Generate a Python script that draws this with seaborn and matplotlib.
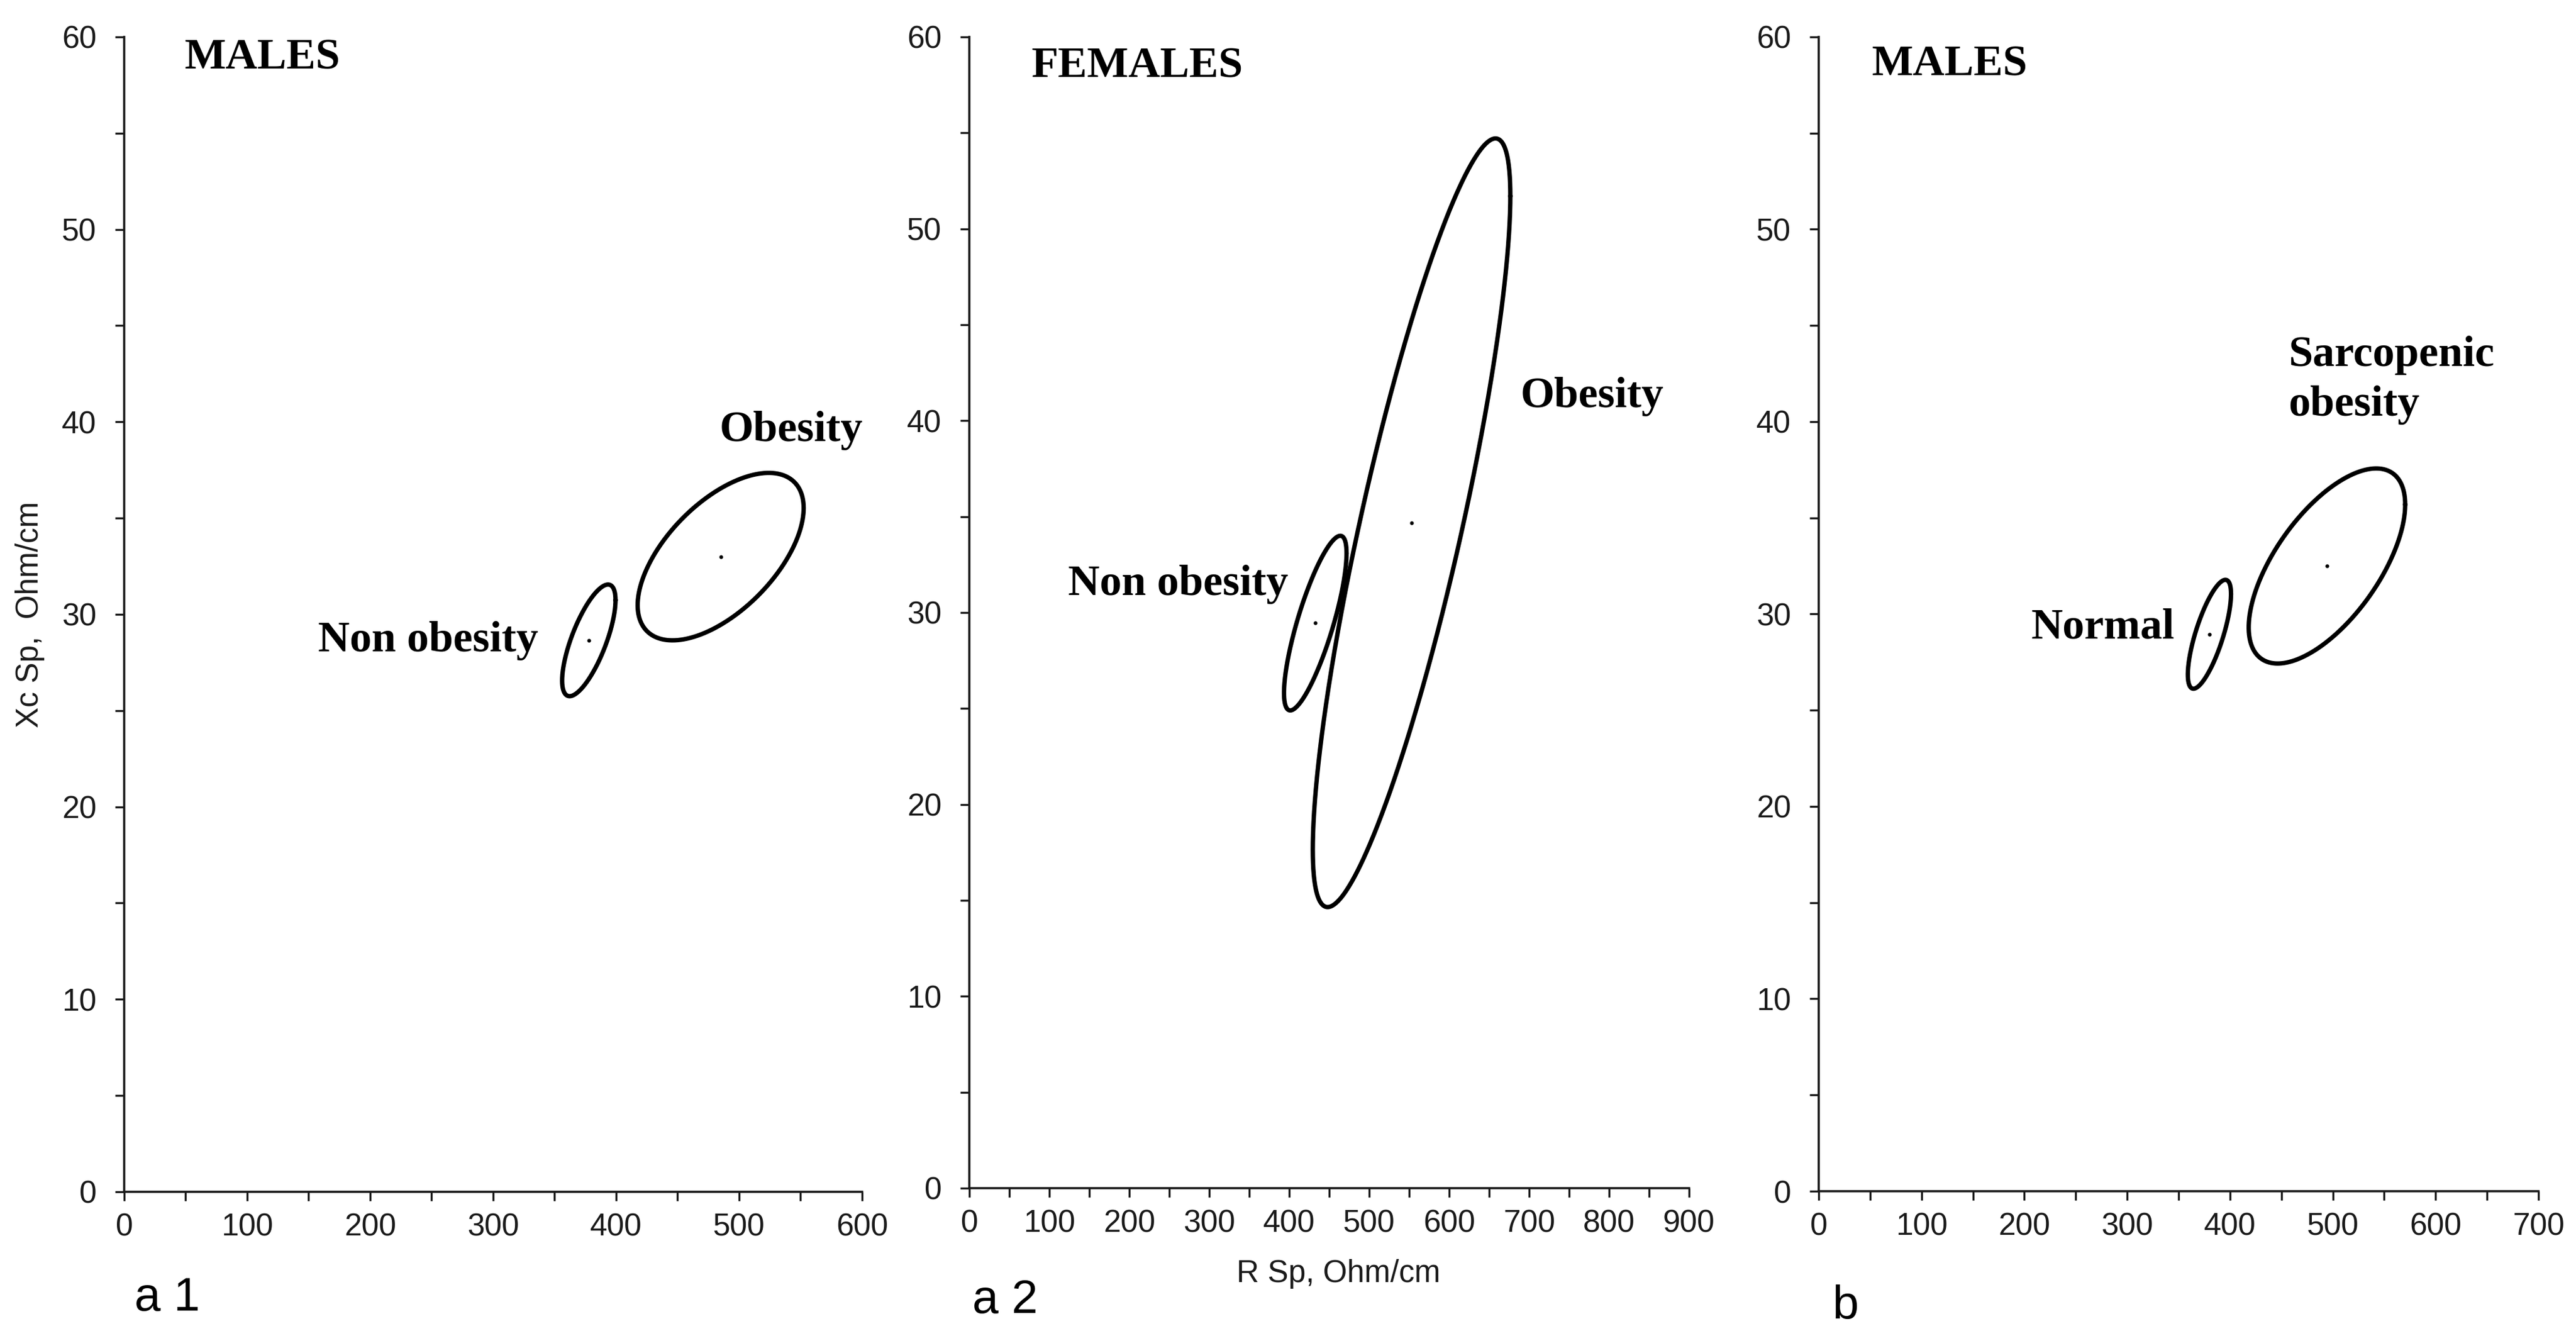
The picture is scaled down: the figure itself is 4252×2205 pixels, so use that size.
import numpy as np
import pandas as pd
import matplotlib
matplotlib.use("Agg")
import matplotlib.pyplot as plt
from matplotlib import font_manager
from matplotlib.ticker import MultipleLocator
import seaborn as sns

# ---------------- data ----------------
panels = ["a 1", "a 2", "b"]
panel_titles = ["MALES", "FEMALES", "MALES"]
x_max = [600, 900, 700]

# one entry per ellipse: panel index, group label, mean R, mean Xc,
# half-extent along R, half-extent along Xc, correlation
ell_panel = [0, 0, 1, 1, 2, 2]
ell_group = ["Non obesity", "Obesity", "Non obesity", "Obesity", "Normal", "Sarcopenic\nobesity"]
ell_mean_r = [377.8, 485.0, 432.6, 553.0, 380.0, 494.3]
ell_mean_xc = [28.65, 33.0, 29.45, 34.68, 28.95, 32.5]
ell_half_r = [21.7, 67.5, 39.1, 123.5, 21.0, 76.1]
ell_half_xc = [2.9, 4.35, 4.55, 20.03, 2.83, 5.07]
ell_corr = [0.72, 0.58, 0.80, 0.85, 0.74, 0.63]

# label anchor (left, baseline of last line) in data units
lab_x = [157.6, 484.0, 123.5, 689.0, 206.8, 457.0]
lab_y = [28.08, 39.0, 30.9, 40.7, 28.75, 40.3]
title_x = [49.3, 78.0, 52.0]
title_y = [58.36, 57.9, 58.0]

# ---------------- style ----------------
sns.set_theme(style="ticks")
names = {f.name for f in font_manager.fontManager.ttflist}
narrow = "Liberation Sans Narrow" if "Liberation Sans Narrow" in names else "Liberation Sans"
plt.rcParams["font.family"] = [narrow, "DejaVu Sans"]
serif = ["Liberation Serif", "DejaVu Serif"]
ink = "#1a1a1a"

dpi = 200
fig = plt.figure(figsize=(4252 / dpi, 2205 / dpi), dpi=dpi, facecolor="white")

axes_rect = [
    [0.04821, 0.10794, 0.28645, 0.86440],
    [0.37629, 0.11066, 0.27940, 0.86168],
    [0.70602, 0.10839, 0.27940, 0.86395],
]

# build ellipse table
t = np.linspace(0, 2 * np.pi, 721)
rows = []
for i in range(len(ell_group)):
    r = ell_corr[i]
    ex = ell_mean_r[i] + ell_half_r[i] * np.cos(t)
    ey = ell_mean_xc[i] + ell_half_xc[i] * (r * np.cos(t) + np.sqrt(1 - r * r) * np.sin(t))
    rows.append(pd.DataFrame({"panel": ell_panel[i], "group": ell_group[i],
                              "R": ex, "Xc": ey, "order": np.arange(len(t))}))
ell_df = pd.concat(rows, ignore_index=True)
centers = pd.DataFrame({"panel": ell_panel, "group": ell_group,
                        "R": ell_mean_r, "Xc": ell_mean_xc})

for p in range(3):
    ax = fig.add_axes(axes_rect[p])
    ax.set_facecolor("white")
    sub = ell_df[ell_df["panel"] == p]
    sns.lineplot(data=sub, x="R", y="Xc", units="group", estimator=None, sort=False,
                 color="black", linewidth=2.6, ax=ax, legend=False)
    csub = centers[centers["panel"] == p]
    sns.scatterplot(data=csub, x="R", y="Xc", color="black", s=5, linewidth=0,
                    ax=ax, legend=False)

    ax.set_xlim(0, x_max[p])
    ax.set_ylim(0, 60)
    ax.xaxis.set_major_locator(MultipleLocator(100))
    ax.xaxis.set_minor_locator(MultipleLocator(50))
    ax.yaxis.set_major_locator(MultipleLocator(10))
    ax.yaxis.set_minor_locator(MultipleLocator(5))
    for s in ["top", "right"]:
        ax.spines[s].set_visible(False)
    for s in ["left", "bottom"]:
        ax.spines[s].set_linewidth(1.3)
        ax.spines[s].set_color(ink)
    ax.tick_params(axis="both", which="both", direction="out", length=5.5,
                   width=1.2, color=ink, labelcolor=ink, labelsize=18.5)
    ax.tick_params(axis="x", which="both", pad=7)
    ax.tick_params(axis="y", which="both", pad=11)
    ax.set_xlabel("")
    ax.set_ylabel("")

    # title inside panel
    ax.text(title_x[p], title_y[p], panel_titles[p], family=serif, fontweight="bold",
            fontsize=26, color="black", ha="left", va="baseline")
    # group labels
    for i in range(len(ell_group)):
        if ell_panel[i] == p:
            ax.text(lab_x[i], lab_y[i], ell_group[i], family=serif, fontweight="bold",
                    fontsize=26, color="black", ha="left", va="baseline",
                    linespacing=1.35, clip_on=False)

    if p == 0:
        ax.set_ylabel("Xc Sp,  Ohm/cm", fontsize=18.5, color=ink)
        ax.yaxis.set_label_coords(-0.128, 0.5)
        ax.yaxis.label.set_va("center")
    if p == 1:
        ax.set_xlabel("R Sp, Ohm/cm", fontsize=18.5, color=ink)
        ax.xaxis.set_label_coords(0.513, -0.0747)
        ax.xaxis.label.set_va("center")

# panel letters
letter_pos = [(0.0522, 0.0190), (0.3775, 0.0172), (0.7114, 0.0127)]
for p in range(3):
    fig.text(letter_pos[p][0], letter_pos[p][1], panels[p], fontsize=28,
             family=["Liberation Sans", "DejaVu Sans"], color="black",
             ha="left", va="baseline")

fig.savefig("out.png", dpi=dpi, facecolor="white")
